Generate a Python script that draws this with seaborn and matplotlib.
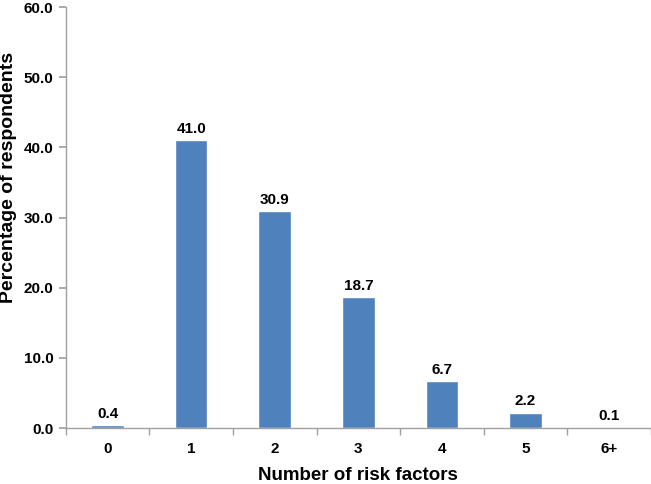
import matplotlib
matplotlib.use("Agg")
import matplotlib.pyplot as plt
import seaborn as sns
import pandas as pd
from matplotlib.ticker import FixedLocator, FormatStrFormatter

categories = ["0", "1", "2", "3", "4", "5", "6+"]
values = [0.4, 41.0, 30.9, 18.7, 6.7, 2.2, 0.1]

sns.set_theme(style="white")
plt.rcParams['font.family'] = ['Liberation Sans', 'DejaVu Sans']
plt.rcParams['text.color'] = 'black'
plt.rcParams['xtick.color'] = 'black'
plt.rcParams['ytick.color'] = 'black'
plt.rcParams['axes.labelcolor'] = 'black'

df = pd.DataFrame({"cat": categories, "val": values})

fig = plt.figure(figsize=(6.51, 4.84), dpi=100)
ax = fig.add_axes([0.101, 0.1157, 0.899, 0.8698])
sns.barplot(data=df, x="cat", y="val", order=categories, color="#4F81BD",
            saturation=1, width=0.39, ax=ax)

ax.set_xlim(-0.5, 6.5)
ax.set_ylim(0, 60)
ax.set_yticks([0, 10, 20, 30, 40, 50, 60])
ax.yaxis.set_major_formatter(FormatStrFormatter('%.1f'))

# category ticks between bars, labels at centers
ax.set_xticks(range(len(categories)))
ax.set_xticklabels(categories)
ax.tick_params(axis='x', which='major', length=0, pad=10)
ax.xaxis.set_minor_locator(FixedLocator([i - 0.5 for i in range(len(categories) + 1)]))
ax.tick_params(axis='x', which='minor', length=5, color='#A0A0A0', direction='out', bottom=True)
ax.tick_params(axis='y', length=5, color='#A0A0A0', labelcolor='black', direction='out', left=True, pad=4)

for lab in ax.get_xticklabels() + ax.get_yticklabels():
    lab.set_fontweight('bold')
    lab.set_fontsize(11)
    lab.set_color('black')

for s in ['top', 'right']:
    ax.spines[s].set_visible(False)
for s in ['left', 'bottom']:
    ax.spines[s].set_color('#A0A0A0')
    ax.spines[s].set_linewidth(1)

ax.bar_label(ax.containers[0], fmt='%.1f', padding=3, fontsize=11, fontweight='bold', color='black')

ax.set_xlabel("Number of risk factors", fontsize=13.5, fontweight='bold', labelpad=8, color='black')
ax.set_ylabel("Percentage of respondents", fontsize=14, fontweight='bold', color='black')
ax.yaxis.set_label_coords(-0.084, 0.594)

fig.savefig("out.png", dpi=100)
